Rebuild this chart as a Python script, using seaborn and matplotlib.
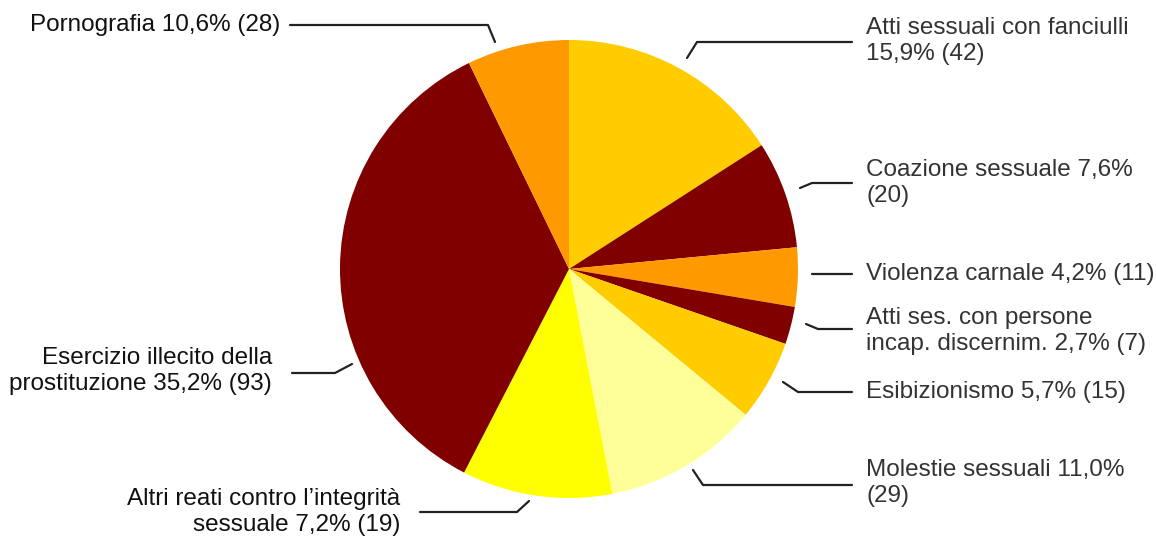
import matplotlib
matplotlib.use("Agg")
import matplotlib.pyplot as plt
import seaborn as sns

# slices in drawing order, clockwise from 12 o'clock
categories = ["Atti sessuali con fanciulli", "Coazione sessuale", "Violenza carnale",
              "Atti ses. con persone incap. discernim.", "Esibizionismo", "Molestie sessuali",
              "Altri reati contro l'integrità sessuale", "Esercizio illecito della prostituzione",
              "Pornografia"]
# wedge sizes as drawn in the picture
counts = [42, 20, 11, 7, 15, 29, 28, 93, 19]
labels = [
    "Atti sessuali con fanciulli\n15,9% (42)",
    "Coazione sessuale 7,6%\n(20)",
    "Violenza carnale 4,2% (11)",
    "Atti ses. con persone\nincap. discernim. 2,7% (7)",
    "Esibizionismo 5,7% (15)",
    "Molestie sessuali 11,0%\n(29)",
    "Altri reati contro l\u2019integrità\nsessuale 7,2% (19)",
    "Esercizio illecito della\nprostituzione 35,2% (93)",
    "Pornografia 10,6% (28)",
]
slice_colors = ["#FFCC00", "#800000", "#FF9900", "#800000", "#FFCC00",
                "#FFFF99", "#FFFF00", "#800000", "#FF9900"]

W, H = 1156, 541

# label layout in pixel coords: text anchor, alignment, leader polyline
layout = [
    ((866, 41), "left", [(687, 58), (697, 42), (852, 42)]),
    ((866, 183), "left", [(800, 188), (812, 183), (852, 183)]),
    ((866, 274), "left", [(812, 274), (852, 274)]),
    ((866, 331), "left", [(806, 324), (818, 329), (852, 329)]),
    ((866, 392), "left", [(783, 382), (798, 392), (852, 392)]),
    ((866, 483), "left", [(693, 470), (703, 485), (852, 485)]),
    ((400, 512), "right", [(420, 512), (517, 512), (529, 501)]),
    ((272, 371), "right", [(292, 373), (335, 373), (352, 364)]),
    ((280, 25), "right", [(290, 25), (488, 25), (495, 42)]),
]

sns.set_theme(style="white")
plt.rcParams["font.family"] = ["Liberation Sans", "DejaVu Sans"]

fig = plt.figure(figsize=(W / 100, H / 100), dpi=100)
ax = fig.add_axes([0, 0, 1, 1])

cx, cy, r = 569, 269, 229
ax.pie(counts, colors=sns.color_palette(slice_colors), startangle=90, counterclock=False,
       center=(cx, H - cy), radius=r, wedgeprops=dict(linewidth=0, antialiased=True))

for lab, ((tx, ty), ha, pts) in zip(labels, layout):
    xs = [p[0] for p in pts]
    ys = [H - p[1] for p in pts]
    ax.plot(xs, ys, color="#222222", lw=1.6, solid_capstyle="round")
    col = "#333333" if ha == "left" else "#111111"
    ax.text(tx, H - ty, lab, ha=ha, va="center", fontsize=17.5, color=col,
            linespacing=1.2, multialignment=ha)

ax.set_xlim(0, W)
ax.set_ylim(0, H)
ax.set_aspect("equal")
ax.axis("off")

fig.savefig("out.png", dpi=100, facecolor="white")
